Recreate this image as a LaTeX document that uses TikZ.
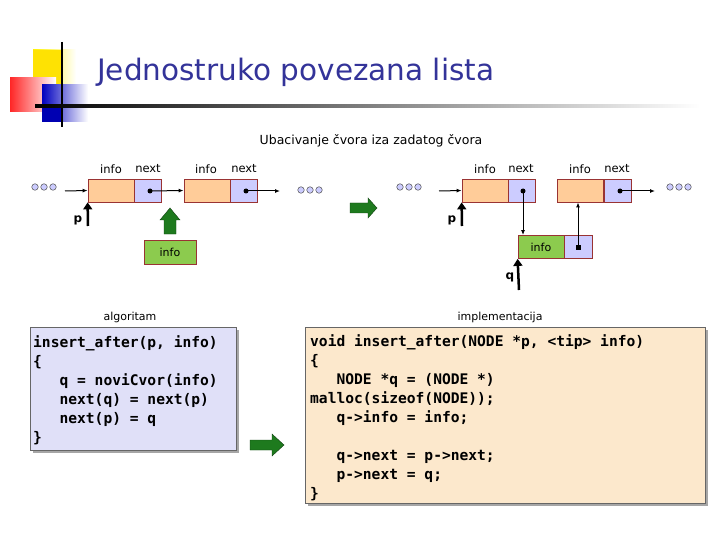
\documentclass[tikz,border=0pt]{standalone}
\usepackage{fontspec}
\setmainfont{DejaVu Sans}
\newfontfamily\codefont{DejaVu Sans Mono}
\newfontfamily\titlefont{DejaVu Sans}
\usetikzlibrary{arrows.meta,shadows}
\definecolor{navy}{HTML}{333399}
\definecolor{peach}{HTML}{FFCC99}
\definecolor{lav}{HTML}{CCCCFF}
\definecolor{brd}{HTML}{993333}
\definecolor{lgreen}{HTML}{8CCB4E}
\definecolor{dgreen}{HTML}{1E7A1E}
\definecolor{codebgL}{HTML}{E0E0F8}
\definecolor{codebgR}{HTML}{FCE8CC}
\begin{document}
\begin{tikzpicture}[x=1pt,y=-1pt,
  infobox/.style={draw=brd,fill=peach,minimum width=46pt,minimum height=23pt,inner sep=0pt,line width=0.8pt},
  nextbox/.style={draw=brd,fill=lav,minimum width=27pt,minimum height=23pt,inner sep=0pt,line width=0.8pt},
  newbox/.style={draw=brd,fill=lgreen,minimum width=46pt,minimum height=23pt,inner sep=0pt,line width=0.8pt,font=\fontsize{11}{13}\selectfont},
  lbl/.style={font=\fontsize{11.5}{13}\selectfont,inner sep=0pt},
  ptr/.style={-{Latex[length=5pt,width=4pt]},line width=1pt},
  dotc/.style={circle,draw=black!70,fill=lav,minimum size=6.5pt,inner sep=0pt,line width=0.5pt},
  code/.style={font=\codefont\bfseries\fontsize{14.6}{19}\selectfont,align=left,anchor=north west,inner sep=0pt}]
\useasboundingbox (0,0) rectangle (720,540);
% decoration
\shade[left color=yellow!90!orange,right color=white] (33,50) rectangle (76,90);
\fill[yellow!85!orange] (33,50) rectangle (62,90);
\shade[left color=red!85,right color=white] (10,78) rectangle (56,112);
\shade[left color=blue!75!black,right color=white] (42,85) rectangle (88,122);
\fill[blue!70!black] (42,106) rectangle (62,122);
\draw[line width=1.2pt] (62,42) -- (62,127);
\shade[left color=black,right color=white] (35,104.5) rectangle (700,107.5);
\node[anchor=west,text=navy,font=\titlefont\fontsize{29.5}{32}\selectfont,inner sep=0pt] (title) at (97,72) {Jednostruko povezana lista};
\node[font=\fontsize{12.5}{14}\selectfont,inner sep=0pt] (sub) at (371,141) {Ubacivanje čvora iza zadatog čvora};
% left group
\foreach \x [count=\i] in {35,44,53}{\node[dotc] (ld\i) at (\x,187) {};}
\node[infobox] (a1) at (111,190.5) {};
\node[nextbox] (a2) at (147.5,190.5) {};
\node[infobox] (b1) at (207,190.5) {};
\node[nextbox] (b2) at (243.5,190.5) {};
\foreach \x [count=\i] in {301,310,319}{\node[dotc] (rd\i) at (\x,190) {};}
\node[lbl] (la1) at (111,169) {info}; \node[lbl] (la2) at (148,169) {next};
\node[lbl] (lb1) at (206,169) {info}; \node[lbl] (lb2) at (244,169) {next};
\coordinate (s1) at (65,191);
\draw[ptr] (s1) -- (a1.west);
\coordinate (pa) at (150,191); \fill (pa) circle (2.5pt);
\draw[ptr] (pa) -- (b1.west);
\coordinate (pb) at (246,191); \fill (pb) circle (2.5pt);
\coordinate (e1) at (280,191);
\draw[ptr] (pb) -- (e1);
\node[lbl,font=\bfseries\fontsize{12}{13}\selectfont] (p1) at (78,220) {p};
\coordinate (p1s) at (88,226);
\draw[-{Triangle[length=7pt,width=9pt]},line width=2.5pt] (p1s) -- (a1.south west);
\node[newbox,minimum width=52pt,minimum height=24pt] (ninfo) at (170,252) {info};
\draw[draw=dgreen!50!black,fill=dgreen,line width=0.4pt] (164,234)--(164,220)--(160,220)--(170,208)--(180,220)--(176,220)--(176,234)--cycle;
% big arrow
\draw[draw=dgreen!50!black,fill=dgreen,line width=0.4pt] (350,203)--(368,203)--(368,198)--(377,208)--(368,218)--(368,213)--(350,213)--cycle;
% right group
\foreach \x [count=\i] in {400,409,418}{\node[dotc] (ld2\i) at (\x,187) {};}
\node[infobox] (c1) at (485,190.5) {};
\node[nextbox] (c2) at (521.5,190.5) {};
\node[infobox] (d1) at (580.5,190.5) {};
\node[nextbox] (d2) at (617.5,190.5) {};
\foreach \x [count=\i] in {670,679,688}{\node[dotc] (rd2\i) at (\x,187) {};}
\node[lbl] (lc1) at (485,169) {info}; \node[lbl] (lc2) at (521,169) {next};
\node[lbl] (ld1) at (580,169) {info}; \node[lbl] (ld2) at (617,169) {next};
\coordinate (s2) at (439,191);
\draw[ptr] (s2) -- (c1.west);
\node[newbox] (m1) at (541,247) {info};
\node[nextbox,minimum height=23pt,minimum width=28pt] (m2) at (578,247) {};
\coordinate (pc) at (523,191); \fill (pc) circle (2.5pt);
\draw[ptr] (pc) -- (pc |- m1.north);
\coordinate (pm) at (578,247); \fill (pm) +(-2.5,-2.5) rectangle +(2.5,2.5);
\draw[ptr] (pm) -- (pm |- d1.south);
\coordinate (pd) at (620,191); \fill (pd) circle (2.5pt);
\coordinate (e2) at (655,191);
\draw[ptr] (pd) -- (e2);
\node[lbl,font=\bfseries\fontsize{12}{13}\selectfont] (p2) at (452,220) {p};
\coordinate (p2s) at (462,226);
\draw[-{Triangle[length=7pt,width=9pt]},line width=2.5pt] (p2s) -- (c1.south west);
\node[lbl,font=\bfseries\fontsize{12}{13}\selectfont] (q) at (510,277) {q};
\coordinate (qs) at (519,290);
\draw[-{Triangle[length=7pt,width=9pt]},line width=2.5pt] (qs) -- (m1.south west);
% bottom
\node[lbl,font=\fontsize{11}{13}\selectfont] (alg) at (130,317) {algoritam};
\node[lbl,font=\fontsize{11}{13}\selectfont] (impl) at (500,317) {implementacija};
\fill[black!35] (33,330) rectangle (239,453);
\draw[black!60,fill=codebgL] (30,327) rectangle (236,450);
\fill[black!35] (308,330) rectangle (708,506);
\draw[black!60,fill=codebgR] (305,327) rectangle (705,503);
\node[code] (c1t) at (33,335) {insert\_after(p, info)\\\{\\\ \ \ q = noviCvor(info)\\\ \ \ next(q) = next(p)\\\ \ \ next(p) = q\\\}};
\node[code] (c2t) at (310,334) {void insert\_after(NODE *p, <tip> info)\\\{\\\ \ \ NODE *q = (NODE *)\\malloc(sizeof(NODE));\\\ \ \ q->info = info;\\[19pt]\ \ \ q->next = p->next;\\\ \ \ p->next = q;\\\}};
\draw[draw=dgreen!50!black,fill=dgreen,line width=0.4pt] (250,440)--(272,440)--(272,434)--(284,445)--(272,456)--(272,450)--(250,450)--cycle;
\end{tikzpicture}
\end{document}
